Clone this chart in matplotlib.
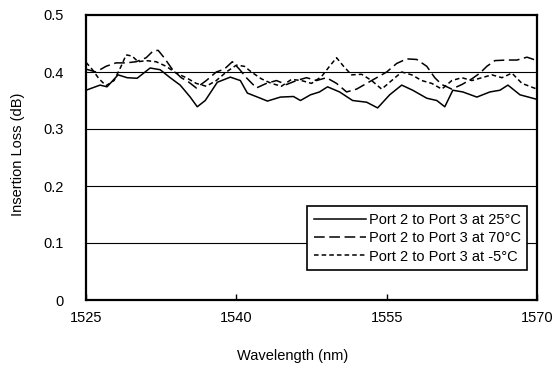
import matplotlib
matplotlib.use("Agg")
import matplotlib.pyplot as plt
import numpy as np

plt.rcParams['font.family'] = ['Liberation Sans', 'DejaVu Sans']

# Port 2 to Port 3 at 25°C (solid)
wl_25 = [1525.0, 1526.4, 1527.1, 1528.2, 1529.1, 1530.1, 1531.4, 1532.4, 1533.4, 1534.4,
         1535.4, 1536.1, 1536.9, 1538.1, 1539.4, 1540.4, 1541.1, 1542.4, 1543.1, 1544.4,
         1545.7, 1546.4, 1547.4, 1548.3, 1549.1, 1550.3, 1551.6, 1553.0, 1554.1, 1555.3,
         1556.5, 1557.6, 1559.0, 1560.0, 1560.8, 1561.6, 1562.6, 1564.0, 1565.3, 1566.3,
         1567.1, 1568.3, 1570.0]
il_25 = [0.368, 0.377, 0.374, 0.395, 0.390, 0.389, 0.407, 0.404, 0.390, 0.377,
         0.356, 0.339, 0.350, 0.382, 0.391, 0.385, 0.363, 0.354, 0.349, 0.356,
         0.357, 0.350, 0.360, 0.365, 0.374, 0.365, 0.350, 0.347, 0.337, 0.360,
         0.377, 0.368, 0.354, 0.350, 0.339, 0.368, 0.365, 0.356, 0.365, 0.368,
         0.377, 0.360, 0.352]

# Port 2 to Port 3 at 70°C (long dash)
wl_70 = [1525.0, 1526.0, 1527.0, 1528.0, 1529.0, 1530.0, 1531.0, 1531.7, 1532.2, 1532.8,
         1533.6, 1534.5, 1535.2, 1536.0, 1537.0, 1538.0, 1538.8, 1539.6, 1540.3, 1541.0,
         1542.0, 1543.0, 1544.0, 1545.0, 1546.0, 1547.0, 1548.0, 1549.0, 1550.0, 1551.0,
         1552.0, 1553.0, 1554.0, 1555.0, 1556.0, 1557.0, 1558.0, 1559.0, 1559.8, 1560.5,
         1561.5, 1562.5, 1563.5, 1564.3, 1565.0, 1565.8, 1567.0, 1568.0, 1569.0, 1570.0]
il_70 = [0.405, 0.400, 0.410, 0.416, 0.416, 0.418, 0.425, 0.437, 0.438, 0.425,
         0.405, 0.390, 0.383, 0.372, 0.385, 0.400, 0.405, 0.418, 0.405, 0.390,
         0.372, 0.380, 0.385, 0.378, 0.385, 0.390, 0.385, 0.390, 0.380, 0.365,
         0.370, 0.380, 0.390, 0.400, 0.415, 0.423, 0.422, 0.410, 0.390, 0.378,
         0.370, 0.378, 0.388, 0.398, 0.410, 0.420, 0.421, 0.421, 0.426, 0.420]

# Port 2 to Port 3 at -5°C (short dash)
wl_m5 = [1525.0, 1525.6, 1526.3, 1527.0, 1527.8, 1528.5, 1529.0, 1529.6, 1530.2, 1531.0,
         1532.0, 1533.0, 1534.0, 1535.0, 1536.0, 1537.0, 1538.0, 1539.0, 1540.0, 1540.8,
         1541.5, 1542.5, 1543.5, 1544.5, 1545.5, 1546.5, 1547.5, 1548.5, 1549.3, 1550.0,
         1550.7, 1551.5, 1552.5, 1553.5, 1554.5, 1555.5, 1556.5, 1557.5, 1558.5, 1559.5,
         1560.5, 1561.5, 1562.5, 1563.5, 1564.5, 1565.5, 1566.5, 1567.5, 1568.5, 1570.0]
il_m5 = [0.417, 0.405, 0.388, 0.376, 0.385, 0.410, 0.430, 0.428, 0.418, 0.420,
         0.418, 0.410, 0.398, 0.390, 0.380, 0.375, 0.385, 0.400, 0.412, 0.410,
         0.400, 0.388, 0.380, 0.375, 0.387, 0.385, 0.380, 0.392, 0.410, 0.425,
         0.410, 0.395, 0.396, 0.385, 0.370, 0.385, 0.400, 0.395, 0.385, 0.380,
         0.370, 0.385, 0.390, 0.385, 0.390, 0.395, 0.390, 0.398, 0.380, 0.370]

labels = ["Port 2 to Port 3 at 25°C", "Port 2 to Port 3 at 70°C", "Port 2 to Port 3 at -5°C"]
x_ticks = [1525, 1540, 1555, 1570]
y_ticks = [0, 0.1, 0.2, 0.3, 0.4, 0.5]
y_ticklabels = ["0", "0.1", "0.2", "0.3", "0.4", "0.5"]

fig = plt.figure(figsize=(5.55, 3.67), dpi=100)
ax = fig.add_axes([86/555, 1 - 300/367, 451/555, 285/367])

ax.plot(wl_25, il_25, color='black', lw=1.1, linestyle='-', label=labels[0])
ax.plot(wl_70, il_70, color='black', lw=1.1, linestyle=(0, (7, 3)), label=labels[1])
ax.plot(wl_m5, il_m5, color='black', lw=1.1, linestyle=(0, (3, 2)), label=labels[2])

ax.set_xlim(1525, 1570)
ax.set_ylim(0, 0.5)
ax.set_xticks(x_ticks)
ax.set_yticks(y_ticks)
ax.set_yticklabels(y_ticklabels)
for yv in y_ticks[1:-1]:
    ax.axhline(yv, color='black', lw=0.8, zorder=0)

for s in ax.spines.values():
    s.set_linewidth(1.6)
    s.set_color('black')

ax.tick_params(axis='x', direction='in', length=4, width=1, pad=8, labelsize=10.5)
ax.tick_params(axis='y', length=0, pad=16, labelsize=10.5)

ax.set_xlabel("Wavelength (nm)", fontsize=10.5)
ax.set_ylabel("Insertion Loss (dB)", fontsize=10.5)
ax.xaxis.set_label_coords(0.459, -0.172)
ax.yaxis.set_label_coords(-0.135, 0.51)

leg = ax.legend(loc='lower right', bbox_to_anchor=(0.978, 0.105), borderaxespad=0,
                fontsize=10.5, frameon=True, fancybox=False, handlelength=3.6,
                handletextpad=0.15, labelspacing=0.3, borderpad=0.45)
leg.get_frame().set_edgecolor('black')
leg.get_frame().set_linewidth(1.2)
leg.get_frame().set_alpha(1)

fig.savefig("out.png", dpi=100)
